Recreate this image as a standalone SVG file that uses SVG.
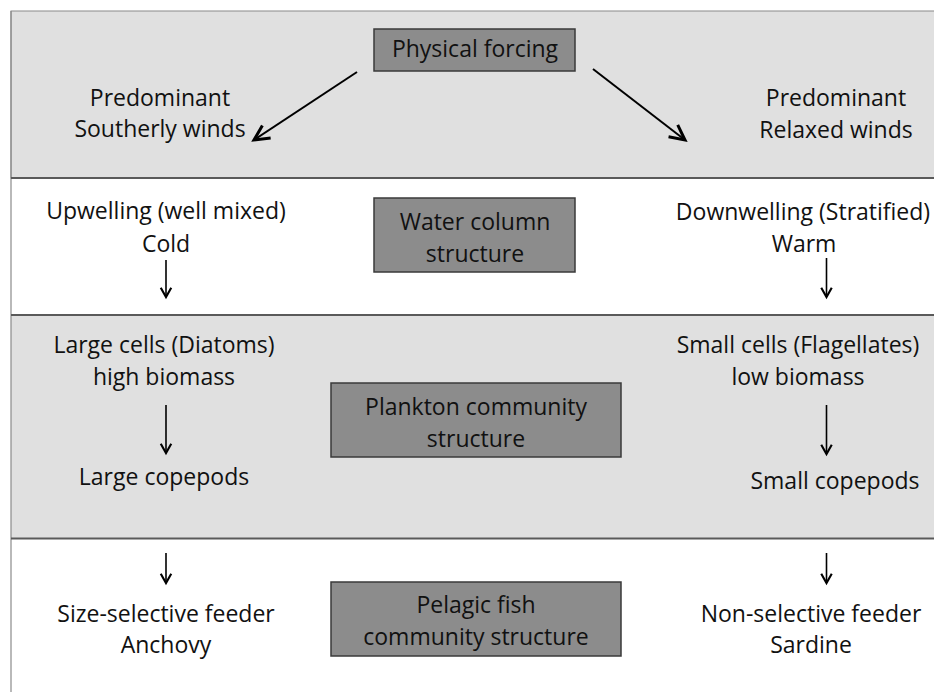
<svg xmlns="http://www.w3.org/2000/svg" width="934" height="692" viewBox="0 0 934 692">
<defs>
<style>
text{font-family:"Open Sans","Liberation Sans",sans-serif;font-size:23px;fill:#111;text-anchor:middle}
.box{fill:#8c8c8c;stroke:#3a3a3a;stroke-width:1.5}
.sep{stroke:#5a5a5a;stroke-width:2;fill:none}
.arr{stroke:#000;stroke-width:2;fill:none;marker-end:url(#ah)}
.varr{stroke:#000;stroke-width:1.6;fill:none;marker-end:url(#vh)}
</style>
<marker id="ah" markerUnits="userSpaceOnUse" markerWidth="20" markerHeight="20" refX="13" refY="7" orient="auto" viewBox="0 0 16 14">
<polyline points="1,1 13,7 1,13" fill="none" stroke="#000" stroke-width="2.4" stroke-linejoin="miter"/>
</marker>
<marker id="vh" markerUnits="userSpaceOnUse" markerWidth="14" markerHeight="14" refX="9" refY="5.5" orient="auto" viewBox="0 0 12 11">
<polyline points="1,1 9,5.5 1,10" fill="none" stroke="#000" stroke-width="1.8"/>
</marker>
</defs>
<rect x="0" y="0" width="934" height="692" fill="#fff"/>
<g id="bands">
<rect x="11" y="11" width="930" height="167" fill="#e0e0e0" stroke="#8a8a8a" stroke-width="1"/>
<rect x="11" y="315" width="930" height="223" fill="#e0e0e0"/>
<line x1="11" y1="11" x2="11" y2="692" stroke="#8a8a8a" stroke-width="1.2"/>
<line class="sep" x1="11" y1="178" x2="934" y2="178"/>
<line class="sep" x1="11" y1="315" x2="934" y2="315"/>
<line class="sep" x1="11" y1="538.5" x2="934" y2="538.5"/>
</g>
<g id="physical-forcing">
<rect class="box" x="374" y="29" width="201" height="42"/>
<text x="475" y="57">Physical forcing</text>
</g>
<g id="water-column">
<rect class="box" x="374" y="198" width="201" height="74"/>
<text x="475" y="230">Water column</text>
<text x="475" y="262">structure</text>
</g>
<g id="plankton">
<rect class="box" x="331" y="383" width="290" height="74"/>
<text x="476" y="415">Plankton community</text>
<text x="476" y="447">structure</text>
</g>
<g id="pelagic">
<rect class="box" x="331" y="582" width="290" height="74"/>
<text x="476" y="613">Pelagic fish</text>
<text x="476" y="645">community structure</text>
</g>
<g id="southerly">
<text x="160" y="106">Predominant</text>
<text x="160" y="137">Southerly winds</text>
</g>
<g id="relaxed">
<text x="836" y="106">Predominant</text>
<text x="836" y="138">Relaxed winds</text>
</g>
<g id="upwelling">
<text x="166" y="219">Upwelling (well mixed)</text>
<text x="166" y="252">Cold</text>
</g>
<g id="downwelling">
<text x="803" y="220">Downwelling (Stratified)</text>
<text x="804" y="252">Warm</text>
</g>
<g id="large-cells">
<text x="164" y="353">Large cells (Diatoms)</text>
<text x="164" y="385">high biomass</text>
</g>
<g id="large-copepods">
<text x="164" y="485">Large copepods</text>
</g>
<g id="small-cells">
<text x="798" y="353">Small cells (Flagellates)</text>
<text x="798" y="385">low biomass</text>
</g>
<g id="small-copepods">
<text x="835" y="489">Small copepods</text>
</g>
<g id="anchovy">
<text x="166" y="622">Size-selective feeder</text>
<text x="166" y="653">Anchovy</text>
</g>
<g id="sardine">
<text x="811" y="622">Non-selective feeder</text>
<text x="811" y="653">Sardine</text>
</g>
<g id="connectors">
<line class="arr" x1="357" y1="72" x2="254" y2="140"/>
<line class="arr" x1="593" y1="69" x2="685" y2="140"/>
<line class="varr" x1="166" y1="260" x2="166" y2="297"/>
<line class="varr" x1="826.5" y1="258" x2="826.5" y2="297"/>
<line class="varr" x1="166" y1="405" x2="166" y2="453"/>
<line class="varr" x1="826.5" y1="405" x2="826.5" y2="454"/>
<line class="varr" x1="166" y1="553" x2="166" y2="583"/>
<line class="varr" x1="826.5" y1="553" x2="826.5" y2="583"/>
</g>
</svg>
